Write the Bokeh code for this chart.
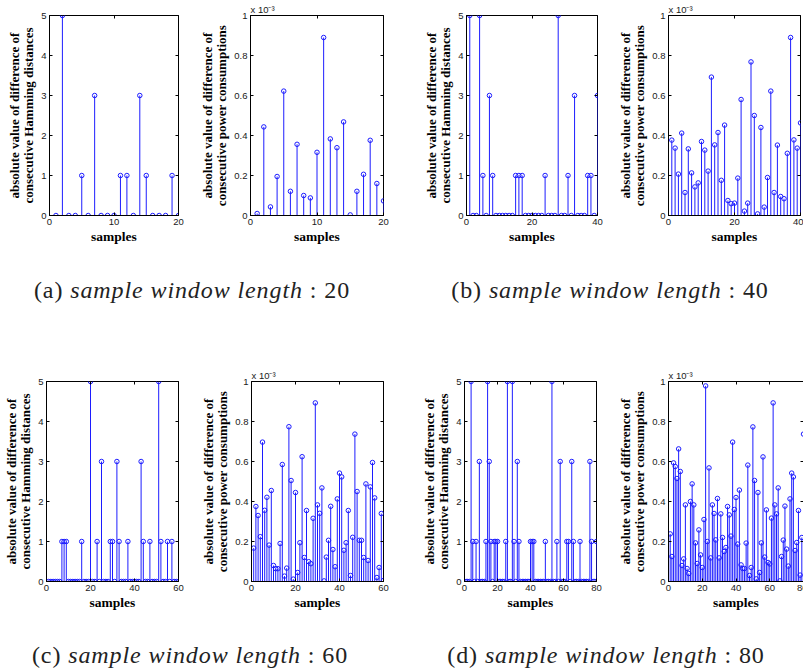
from bokeh.plotting import figure
from bokeh.layouts import row, column
from bokeh.models import Div, FixedTicker, LinearAxis, Range1d
from bokeh.embed import file_html
from bokeh.resources import INLINE

# ---------------- data ----------------
# absolute value of difference of consecutive Hamming distances
ham_20 = [0, 5, 0, 0, 1, 0, 3, 0, 0, 0, 1, 1, 0, 3, 1, 0, 0, 0, 1, 0]
ham_40 = [5, 0, 0, 5, 1, 0, 3, 1, 0, 0,
          0, 0, 0, 0, 1, 1, 1, 0, 0, 0,
          0, 0, 0, 1, 0, 0, 0, 5, 0, 0,
          1, 0, 3, 0, 0, 0, 1, 1, 0, 3]
ham_60 = [0, 0, 0, 0, 0, 0, 1, 1, 1, 0,
          0, 0, 0, 0, 0, 1, 0, 0, 0, 5,
          0, 0, 1, 0, 3, 0, 0, 0, 1, 1,
          0, 3, 1, 0, 0, 0, 1, 0, 0, 0,
          0, 0, 3, 1, 0, 0, 1, 0, 0, 0,
          5, 1, 0, 0, 1, 0, 1, 0, 0, 0]
ham_80 = [0, 0, 0, 5, 1, 0, 1, 0, 3, 0,
          0, 0, 1, 5, 3, 1, 0, 1, 1, 1,
          0, 0, 0, 0, 1, 5, 0, 0, 5, 1,
          0, 3, 1, 0, 0, 0, 0, 0, 0, 1,
          1, 1, 0, 0, 0, 0, 0, 0, 1, 0,
          0, 0, 5, 0, 0, 1, 0, 3, 0, 0,
          0, 1, 1, 0, 3, 1, 0, 0, 0, 1,
          0, 0, 0, 0, 0, 3, 1, 0, 0, 1]

# absolute value of difference of consecutive power consumptions (x 10^-3)
pow_20 = [0.010, 0.443, 0.043, 0.195, 0.622, 0.121, 0.356, 0.100, 0.088, 0.316,
          0.890, 0.383, 0.339, 0.468, 0.003, 0.121, 0.206, 0.376, 0.160, 0.073]
pow_40 = [0.377, 0.337, 0.207, 0.412, 0.115, 0.333, 0.213, 0.143, 0.163, 0.370,
          0.327, 0.222, 0.692, 0.353, 0.415, 0.176, 0.452, 0.075, 0.059, 0.062,
          0.187, 0.580, 0.022, 0.062, 0.768, 0.500, 0.008, 0.440, 0.042, 0.190,
          0.622, 0.115, 0.352, 0.095, 0.084, 0.311, 0.890, 0.378, 0.337, 0.463]
pow_60 = [0.167, 0.375, 0.330, 0.224, 0.697, 0.356, 0.421, 0.182, 0.455, 0.080,
          0.064, 0.064, 0.190, 0.585, 0.027, 0.067, 0.774, 0.505, 0.012, 0.445,
          0.045, 0.194, 0.624, 0.120, 0.355, 0.099, 0.089, 0.316, 0.893, 0.383,
          0.341, 0.468, 0.003, 0.122, 0.206, 0.376, 0.160, 0.074, 0.413, 0.542,
          0.523, 0.156, 0.194, 0.355, 0.030, 0.221, 0.737, 0.450, 0.206, 0.206,
          0.120, 0.488, 0.105, 0.473, 0.595, 0.418, 0.020, 0.070, 0.340, 0.005]
pow_80 = [0.238, 0.125, 0.593, 0.575, 0.515, 0.663, 0.550, 0.080, 0.113, 0.383,
          0.065, 0.040, 0.400, 0.488, 0.383, 0.193, 0.090, 0.258, 0.133, 0.070,
          0.310, 0.978, 0.200, 0.568, 0.118, 0.383, 0.340, 0.208, 0.415, 0.118,
          0.338, 0.220, 0.150, 0.170, 0.375, 0.333, 0.227, 0.697, 0.360, 0.420,
          0.187, 0.457, 0.083, 0.065, 0.065, 0.192, 0.582, 0.030, 0.070, 0.773,
          0.505, 0.013, 0.445, 0.045, 0.193, 0.623, 0.122, 0.358, 0.095, 0.088,
          0.317, 0.893, 0.383, 0.338, 0.468, 0.003, 0.125, 0.207, 0.377, 0.162,
          0.077, 0.413, 0.542, 0.523, 0.155, 0.195, 0.355, 0.032, 0.220, 0.737]

ham_yticks = [0, 1, 2, 3, 4, 5]
pow_yticks = [0, 0.2, 0.4, 0.6, 0.8, 1]
pow_ylabels = ["0", "0.2", "0.4", "0.6", "0.8", "1"]
xticks_20 = [0, 10, 20]
xticks_40 = [0, 20, 40]
xticks_60 = [0, 20, 40, 60]
xticks_80 = [0, 20, 40, 60, 80]

ham_label = "absolute value of difference of\nconsecutive Hamming distances"
pow_label = "absolute value of difference of\nconsecutive power consumptions"
x_label = "samples"
exp_label = "x 10\u207b\u00b3"
captions = [("(a)", "sample window length", "20"),
            ("(b)", "sample window length", "40"),
            ("(c)", "sample window length", "60"),
            ("(d)", "sample window length", "80")]

BLUE = "#1c1cff"
TXT = "#1a1a1a"


def stem_fig(y, xmax, xticks, ymax, yticks, ylabel, bl, fw, br, bt, bb,
             ylabels=None, exponent=False):
    x = list(range(1, len(y) + 1))
    p = figure(frame_width=fw, frame_height=200,
               x_range=Range1d(0, xmax), y_range=Range1d(0, ymax),
               output_backend="svg", toolbar_location=None,
               min_border_left=bl, min_border_right=br,
               min_border_top=bt, min_border_bottom=bb)
    p.segment(x0=x, y0=[0] * len(y), x1=x, y1=y, line_color=BLUE, line_width=1)
    p.scatter(x, y, marker="circle", size=4.5, fill_color=None,
              line_color=BLUE, line_width=1)
    p.grid.visible = False
    p.outline_line_color = "black"
    p.outline_line_alpha = 1
    p.outline_line_width = 1
    p.background_fill_color = "white"
    p.border_fill_color = "white"

    p.xaxis.ticker = FixedTicker(ticks=xticks)
    p.yaxis.ticker = FixedTicker(ticks=yticks)
    if ylabels is not None:
        p.yaxis.major_label_overrides = dict(zip(yticks, ylabels))
    for ax in [p.xaxis[0], p.yaxis[0]]:
        ax.major_tick_in = 3
        ax.major_tick_out = 0
        ax.minor_tick_line_color = None
        ax.axis_line_color = "black"
        ax.major_tick_line_color = "black"
        ax.major_label_text_font = "Liberation Sans"
        ax.major_label_text_font_size = "9.5px"
        ax.major_label_text_color = TXT
        ax.axis_label_text_font = "Liberation Serif"
        ax.axis_label_text_font_style = "bold"
        ax.axis_label_text_color = "black"
        ax.axis_label_text_line_height = 0.95
    p.xaxis.axis_label = x_label
    p.xaxis.axis_label_text_font_size = "13.5px"
    p.xaxis.major_label_standoff = 3
    p.xaxis.axis_label_standoff = 1
    p.yaxis.axis_label = ylabel
    p.yaxis.axis_label_text_font_size = "13px"
    p.yaxis.major_label_standoff = 3
    p.yaxis.axis_label_standoff = 2

    # inner ticks on the right and top edges (box)
    ra = LinearAxis(ticker=FixedTicker(ticks=yticks),
                    major_label_overrides={t: "" for t in yticks},
                    major_label_standoff=0, major_tick_in=3, major_tick_out=0,
                    minor_tick_line_color=None, axis_line_color=None,
                    major_tick_line_color="black")
    p.add_layout(ra, "right")
    ta = LinearAxis(ticker=FixedTicker(ticks=xticks),
                    major_label_overrides={t: "" for t in xticks},
                    major_label_standoff=0, major_tick_in=3, major_tick_out=0,
                    minor_tick_line_color=None, axis_line_color=None,
                    major_tick_line_color="black")
    p.add_layout(ta, "above")

    if exponent:
        p.title.text = exp_label
        p.title.align = "left"
        p.title.offset = 0
        p.title.standoff = 1
        p.title.text_font = "Liberation Sans"
        p.title.text_font_size = "9.5px"
        p.title.text_font_style = "normal"
        p.title.text_color = TXT
    return p


# top row (frame top at 15, bottom at 215)
fa1 = stem_fig(ham_20, 20, xticks_20, 5, ham_yticks, ham_label, 49, 129, 12, 15, 35)
fa2 = stem_fig(pow_20, 20, xticks_20, 1, pow_yticks, pow_label, 60, 133, 17, 15, 35,
               ylabels=pow_ylabels, exponent=True)
fb1 = stem_fig(ham_40, 40, xticks_40, 5, ham_yticks, ham_label, 66, 131, 8, 15, 35)
fb2 = stem_fig(pow_40, 40, xticks_40, 1, pow_yticks, pow_label, 63, 132, 3, 15, 35,
               ylabels=pow_ylabels, exponent=True)

# bottom row (frame top at 381, bottom at 581)
fc1 = stem_fig(ham_60, 60, xticks_60, 5, ham_yticks, ham_label, 42, 132, 16, 36, 44)
fc2 = stem_fig(pow_60, 60, xticks_60, 1, pow_yticks, pow_label, 57, 132, 21, 36, 44,
               ylabels=pow_ylabels, exponent=True)
fd1 = stem_fig(ham_80, 80, xticks_80, 5, ham_yticks, ham_label, 60, 132, 11, 36, 44)
fd2 = stem_fig(pow_80, 80, xticks_80, 1, pow_yticks, pow_label, 61, 135, 4, 36, 44,
               ylabels=pow_ylabels, exponent=True)


def caption_html(c, left, width, top):
    tag, body, num = c
    return (f'<div style="position:absolute;left:{left}px;top:{top}px;width:{width}px;'
            f'text-align:center;white-space:nowrap;font-family:\'Liberation Serif\';'
            f'font-size:24px;line-height:24px;color:#222;letter-spacing:0.9px;">'
            f'{tag} <i>{body}</i> : {num}</div>')


def caption_row(c1, c2, height, top, c1_center, c2_center):
    w = 400
    html = (f'<div style="position:relative;width:803px;height:{height}px;">'
            + caption_html(c1, c1_center - w // 2, w, top)
            + caption_html(c2, c2_center - w // 2, w, top)
            + '</div>')
    return Div(text=html, width=803, height=height, margin=0)


cap1 = caption_row(captions[0], captions[1], 95, 28, 192, 610)
cap2 = caption_row(captions[2], captions[3], 47, 18, 190, 606)

layout = column(row(fa1, fa2, fb1, fb2, spacing=0),
                cap1,
                row(fc1, fc2, fd1, fd2, spacing=0),
                cap2, spacing=0)

open("out.html", "w").write(file_html(layout, INLINE))
